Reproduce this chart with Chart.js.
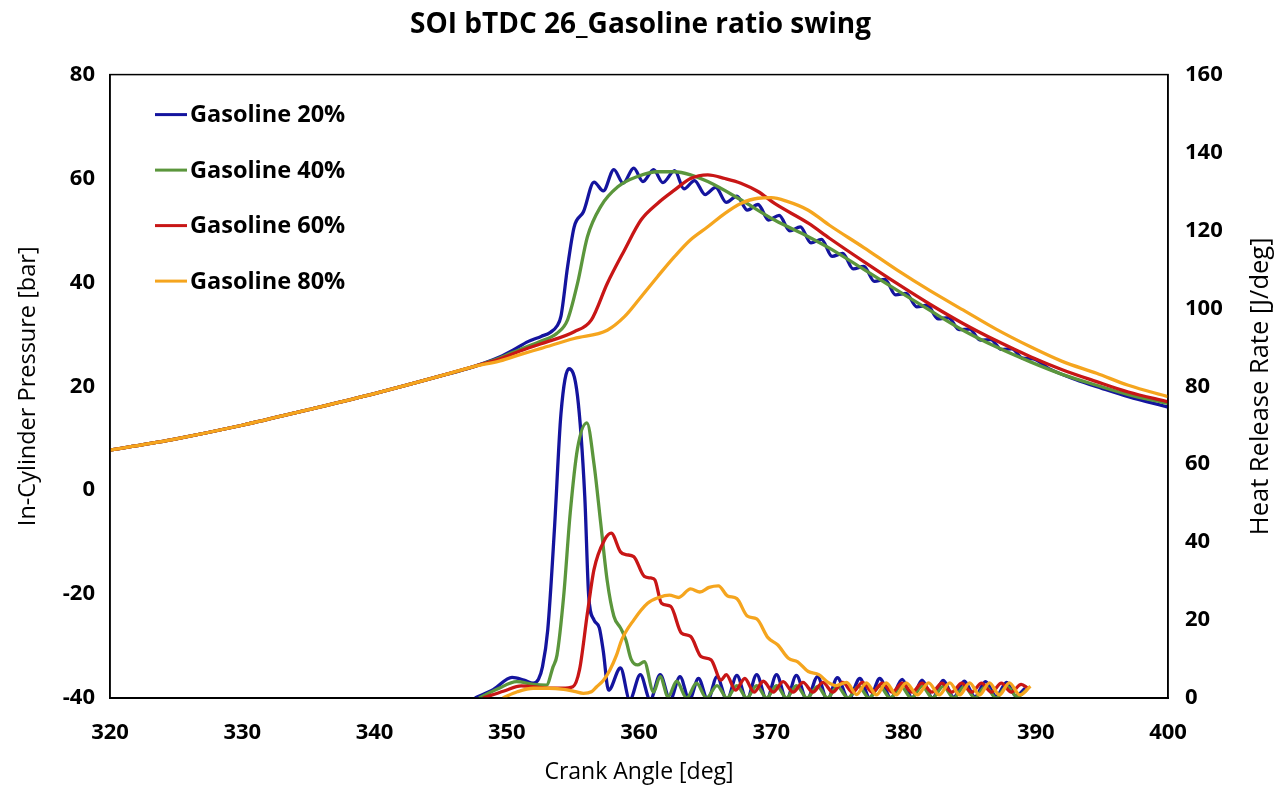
<!DOCTYPE html>
<html>
<head>
<meta charset="utf-8">
<script src="https://cdn.jsdelivr.net/npm/chart.js@4.4.0/dist/chart.umd.min.js"></script>
<style>
  html, body { margin: 0; padding: 0; background: #fff; }
  #wrap { width: 1281px; height: 794px; }
</style>
</head>
<body>
<div id="wrap"><canvas id="pressureChart"></canvas></div>
<script>
// series labels and colours
const seriesNames = ['Gasoline 20%', 'Gasoline 40%', 'Gasoline 60%', 'Gasoline 80%'];
const seriesColors = ['#14149e', '#5b963c', '#c81616', '#f5a51e'];

// compression part, same for all four runs  [crank angle, bar]
const compression = [[320, 7.7], [325, 9.9], [330, 12.5], [335, 15.5], [340, 18.6], [345, 22.0], [347.5, 23.8]];

// in-cylinder pressure [bar] after 347.5 deg
const pressure20 = [[349.5, 25.7], [350.5, 27.0], [351.6, 28.6], [352.6, 29.6], [353.3, 30.4], [353.8, 31.6], [354.1, 33.5],
  [354.6, 43], [355.1, 50.7], [355.8, 53.6], [356.6, 59.3], [357.3, 57.6], [358.1, 61.7], [358.8, 59.1], [359.6, 62.0],
  [360.3, 59.4], [361.1, 61.7], [361.8, 59.2], [362.7, 61.5], [363.4, 58.0], [364.2, 59.6], [365.0, 56.9], [365.8, 58.3],
  [366.6, 55.4], [367.4, 56.6], [368.2, 53.9], [369.0, 55.0], [369.8, 52.0], [370.6, 52.9], [371.4, 49.9], [372.2, 50.7],
  [373.0, 47.6], [373.8, 48.3], [374.6, 45.0], [375.4, 45.6], [376.2, 42.6], [377.0, 43.1], [377.8, 40.2], [378.6, 40.6],
  [379.4, 37.6], [380.2, 37.9], [381.0, 35.3], [381.8, 35.6], [382.6, 33.0], [383.4, 33.2], [384.2, 30.9], [385.0, 31.0],
  [385.8, 28.9], [386.6, 29.0], [387.4, 27.1], [388.2, 27.2], [389.0, 25.4], [389.8, 25.3], [391, 23.4], [393, 21.3],
  [395, 19.6], [397, 18.0], [400, 16.0]];
const pressure40 = [[349.5, 25.5], [351, 27.1], [352.6, 28.7], [353.8, 30.2], [354.6, 32.8], [355.35, 39.8], [356.1, 48.8],
  [357.1, 54.6], [358.4, 58.4], [359.9, 60.4], [361.4, 61.3], [362.7, 61.3], [363.9, 60.7], [365.2, 59.4], [367.7, 55.9],
  [370.25, 52.0], [372.8, 48.8], [374.4, 46.6], [377, 42.5], [379.5, 38.5], [382, 34.6], [384.5, 30.8], [387, 27.6],
  [389.6, 24.7], [392, 22.3], [394.6, 20.2], [397, 18.4], [400, 16.7]];
const pressure60 = [[349.5, 25.3], [351, 26.8], [352.6, 28.2], [355.1, 30.5], [356.4, 32.8], [357.6, 39.8], [358.9, 46.2],
  [360.15, 52.0], [361.4, 55.2], [362.7, 57.8], [363.9, 60.0], [365.2, 60.7], [366.5, 60.0], [367.7, 59.1], [369.0, 57.5],
  [370.25, 55.2], [372.8, 51.4], [374.4, 48.5], [377, 44.0], [379.5, 39.8], [382, 35.8], [384.5, 32.1], [387, 28.8],
  [389.6, 25.7], [392, 23.2], [394.6, 20.9], [397, 18.9], [400, 17.0]];
const pressure80 = [[349.5, 24.9], [351, 26.1], [352.6, 27.3], [355.1, 29.2], [357.6, 30.8], [358.9, 33.4], [360.15, 37.2],
  [361.4, 41.1], [362.7, 45.0], [363.9, 48.2], [365.2, 50.7], [366.5, 53.3], [367.7, 55.2], [369.0, 56.2], [370.0, 56.3],
  [371.2, 55.6], [372.8, 53.9], [374.4, 51.0], [377, 46.7], [379.5, 42.4], [382, 38.4], [384.5, 34.7], [387, 31.0],
  [389.6, 27.6], [392, 24.8], [394.6, 22.5], [397, 20.2], [400, 18.0]];

// heat release rate [J/deg]
const hrr20 = [[347.6, 0], [349, 2.2], [350.4, 5.3], [351.3, 4.6], [352.0, 3.8], [352.4, 4.8], [352.7, 8], [353.1, 17.5],
  [353.6, 43], [354.1, 73], [354.7, 84.5], [355.35, 77.5], [355.9, 51.7], [356.2, 26], [356.6, 20], [357.0, 18],
  [357.3, 12], [357.7, 2], [358.6, 7.7], [359.3, -0.5], [360.1, 6], [360.85, -0.5], [361.6, 6], [362.35, -0.5],
  [363.1, 5.5], [363.8, -0.5], [364.5, 5], [365.2, -0.5], [365.9, 5.5], [366.65, -0.5], [367.4, 5.8], [368.15, -0.5],
  [368.9, 6], [369.65, -0.5], [370.4, 6], [371.15, -0.5], [371.9, 5.8], [372.7, -0.5], [373.5, 5.5], [374.25, -0.5],
  [375.0, 5.2], [375.85, -0.3], [376.7, 5], [377.45, 0], [378.2, 5], [379.05, 0], [379.9, 4.8], [380.65, 0],
  [381.4, 4.6], [382.2, 0], [383.0, 4.5], [383.8, 0.2], [384.6, 4.3], [385.4, 0.3], [386.2, 4.2], [387.0, 0.4],
  [387.8, 4], [388.5, 0.5], [389.2, 2.5]];
const hrr40 = [[347.9, 0], [349.3, 2.3], [350.75, 4.2], [352.0, 3.5], [353.0, 3.3], [353.5, 8], [353.8, 11], [354.3, 26],
  [354.8, 47.5], [355.35, 64], [356.06, 70.6], [356.6, 60], [357.1, 45], [357.6, 30], [358.1, 21], [358.6, 18],
  [359.0, 15], [359.4, 10], [359.9, 8.5], [360.4, 9.3], [361.1, 1.5], [361.6, 5.5], [362.2, 0.3], [362.85, 4.3],
  [363.6, 0], [364.35, 3.8], [365.1, 0], [365.9, 3.2], [366.65, 0], [367.4, 3.2], [368.15, 0], [368.9, 3.2],
  [369.65, 0], [370.4, 3.2], [371.15, 0], [371.9, 3.2], [372.7, 0], [373.5, 3], [374.25, 0], [375.0, 3], [375.8, 0],
  [376.6, 3], [377.4, 0], [378.2, 3], [379.0, 0], [379.8, 3], [380.6, 0], [381.4, 3], [382.2, 0], [383.0, 3],
  [383.8, 0], [384.6, 3], [385.4, 0], [386.2, 3], [387.0, 0], [387.8, 3], [388.6, 0.3], [389.3, 2]];
const hrr60 = [[348.2, 0], [349.8, 1.8], [351.1, 3.1], [352.3, 2.8], [353.3, 2.5], [354.2, 2.5], [355.0, 2.9], [355.5, 7.2],
  [356.1, 21.8], [356.6, 33], [357.4, 40.6], [357.9, 42.3], [358.6, 37.5], [359.0, 36.8], [359.6, 36.3], [360.4, 31.2],
  [360.9, 30.8], [361.2, 30.3], [361.7, 24.3], [362.4, 23.5], [363.2, 16.7], [363.9, 15.8], [364.7, 10.6], [365.45, 9.8],
  [366.2, 4.6], [366.6, 6.0], [367.3, 2.0], [368.0, 5.0], [368.7, 1.5], [369.4, 4.3], [370.15, 1.5], [370.9, 4.2],
  [371.65, 1.5], [372.4, 4.0], [373.15, 1.5], [373.9, 4.0], [374.65, 1.5], [375.4, 4.0], [376.15, 1.5], [376.9, 4.0],
  [377.65, 1.5], [378.4, 3.8], [379.15, 1.5], [379.9, 3.8], [380.65, 1.5], [381.4, 3.8], [382.15, 1.5], [382.9, 3.8],
  [383.65, 1.5], [384.4, 3.8], [385.15, 1.5], [385.9, 3.8], [386.65, 1.5], [387.4, 3.8], [388.15, 1.5], [388.9, 3.5],
  [389.4, 2.5]];
const hrr80 = [[349.7, 0], [350.8, 1.6], [352.0, 2.5], [353.2, 2.5], [354.3, 2.2], [355.1, 1.7], [355.8, 1.2], [356.4, 1.6],
  [356.8, 2.9], [357.3, 4.5], [357.8, 7.2], [358.3, 11], [358.7, 15], [359.6, 20], [360.65, 24.3], [361.5, 25.8],
  [362.3, 26.4], [363.0, 25.8], [363.9, 28.0], [364.6, 27.2], [365.3, 28.4], [366.0, 28.8], [366.7, 26.2], [367.4, 25.5],
  [368.2, 21], [368.9, 20.3], [369.75, 15.5], [370.5, 13.6], [371.3, 10.2], [372.0, 9.3], [372.8, 6.8], [373.6, 6.0],
  [374.3, 4.0], [374.9, 3.2], [375.7, 4.0], [376.45, 0.9], [377.2, 3.9], [377.95, 0.8], [378.7, 3.9], [379.45, 0.8],
  [380.2, 3.9], [381.05, 0.8], [381.9, 3.9], [382.7, 0.8], [383.5, 3.9], [384.25, 0.8], [385.0, 3.9], [385.75, 0.8],
  [386.5, 3.9], [387.25, 0.8], [388.0, 3.9], [388.8, 0.8], [389.6, 3.0]];

const pressureSeries = [pressure20, pressure40, pressure60, pressure80];
const hrrSeries = [hrr20, hrr40, hrr60, hrr80];

const chartTitle = 'SOI bTDC 26_Gasoline ratio swing';
const xTitle = 'Crank Angle [deg]';
const yTitle = 'In-Cylinder Pressure [bar]';
const y1Title = 'Heat Release Rate [J/deg]';

Chart.defaults.font.family = "'Open Sans', sans-serif";
Chart.defaults.color = '#000';

const datasets = [];
pressureSeries.forEach((s, i) => {
  datasets.push({
    label: seriesNames[i],
    data: compression.concat(s),
    yAxisID: 'y',
    borderColor: seriesColors[i],
    backgroundColor: seriesColors[i],
    borderWidth: 3.3,
    pointRadius: 0,
    cubicInterpolationMode: 'monotone',
    order: 4 - i
  });
});
hrrSeries.forEach((s, i) => {
  datasets.push({
    label: seriesNames[i] + ' HRR',
    data: s,
    yAxisID: 'y1',
    borderColor: seriesColors[i],
    backgroundColor: seriesColors[i],
    borderWidth: 3.3,
    pointRadius: 0,
    cubicInterpolationMode: 'monotone',
    clip: 0,
    order: 4 - i
  });
});

// frame round the plot, the right-hand title (reads bottom to top) and the legend inside the plot
const frame = {
  id: 'frame',
  afterDraw(chart) {
    const { ctx, chartArea: a } = chart;
    ctx.save();
    ctx.strokeStyle = '#000';
    ctx.lineWidth = 1.5;
    ctx.strokeRect(a.left, a.top, a.right - a.left, a.bottom - a.top);

    ctx.font = "bold 23.5px 'Open Sans', sans-serif";
    ctx.textBaseline = 'middle';
    ctx.textAlign = 'left';
    seriesNames.forEach((name, i) => {
      const y = a.top + 40 + i * 55.5;
      ctx.strokeStyle = seriesColors[i];
      ctx.lineWidth = 3;
      ctx.beginPath();
      ctx.moveTo(a.left + 45, y);
      ctx.lineTo(a.left + 77, y);
      ctx.stroke();
      ctx.fillStyle = '#000';
      ctx.fillText(name, a.left + 80, y + 1);
    });

    ctx.translate(chart.width - 20, (a.top + a.bottom) / 2);
    ctx.rotate(-Math.PI / 2);
    ctx.font = "25.5px 'Open Sans', sans-serif";
    ctx.fillStyle = '#000';
    ctx.textAlign = 'center';
    ctx.fillText(y1Title, 0, 0);
    ctx.restore();
  }
};

new Chart(document.getElementById('pressureChart'), {
  type: 'line',
  data: { datasets: datasets },
  plugins: [frame],
  options: {
    responsive: true,
    maintainAspectRatio: false,
    animation: false,
    layout: { padding: 0 },
    plugins: {
      title: {
        display: true,
        text: chartTitle,
        font: { size: 28, weight: 'bold' },
        color: '#000',
        padding: { top: 8, bottom: 33 }
      },
      legend: { display: false },
      tooltip: { enabled: false }
    },
    scales: {
      x: {
        type: 'linear',
        min: 320,
        max: 400,
        ticks: { stepSize: 10, padding: 22, font: { size: 22, weight: 'bold' }, color: '#000' },
        grid: { display: false, drawTicks: false },
        border: { color: '#000', width: 2 },
        title: { display: true, text: xTitle, font: { size: 23 }, color: '#000', padding: { top: 0, bottom: 8 } },
        afterFit: s => { s.height = 96; }
      },
      y: {
        position: 'left',
        min: -40,
        max: 80,
        ticks: { stepSize: 20, padding: 15, font: { size: 22, weight: 'bold' }, color: '#000' },
        grid: { display: false, drawTicks: false },
        border: { color: '#000', width: 1.5 },
        title: { display: true, text: yTitle, font: { size: 23.5 }, color: '#000', padding: { top: 14, bottom: 0 } },
        afterFit: s => { s.width = 110; }
      },
      y1: {
        position: 'right',
        min: 0,
        max: 160,
        ticks: { stepSize: 20, padding: 17, font: { size: 22, weight: 'bold' }, color: '#000' },
        grid: { display: false, drawTicks: false },
        border: { color: '#000', width: 1.5 },
        afterFit: s => { s.width = 113; }
      }
    }
  }
});
</script>
</body>
</html>
